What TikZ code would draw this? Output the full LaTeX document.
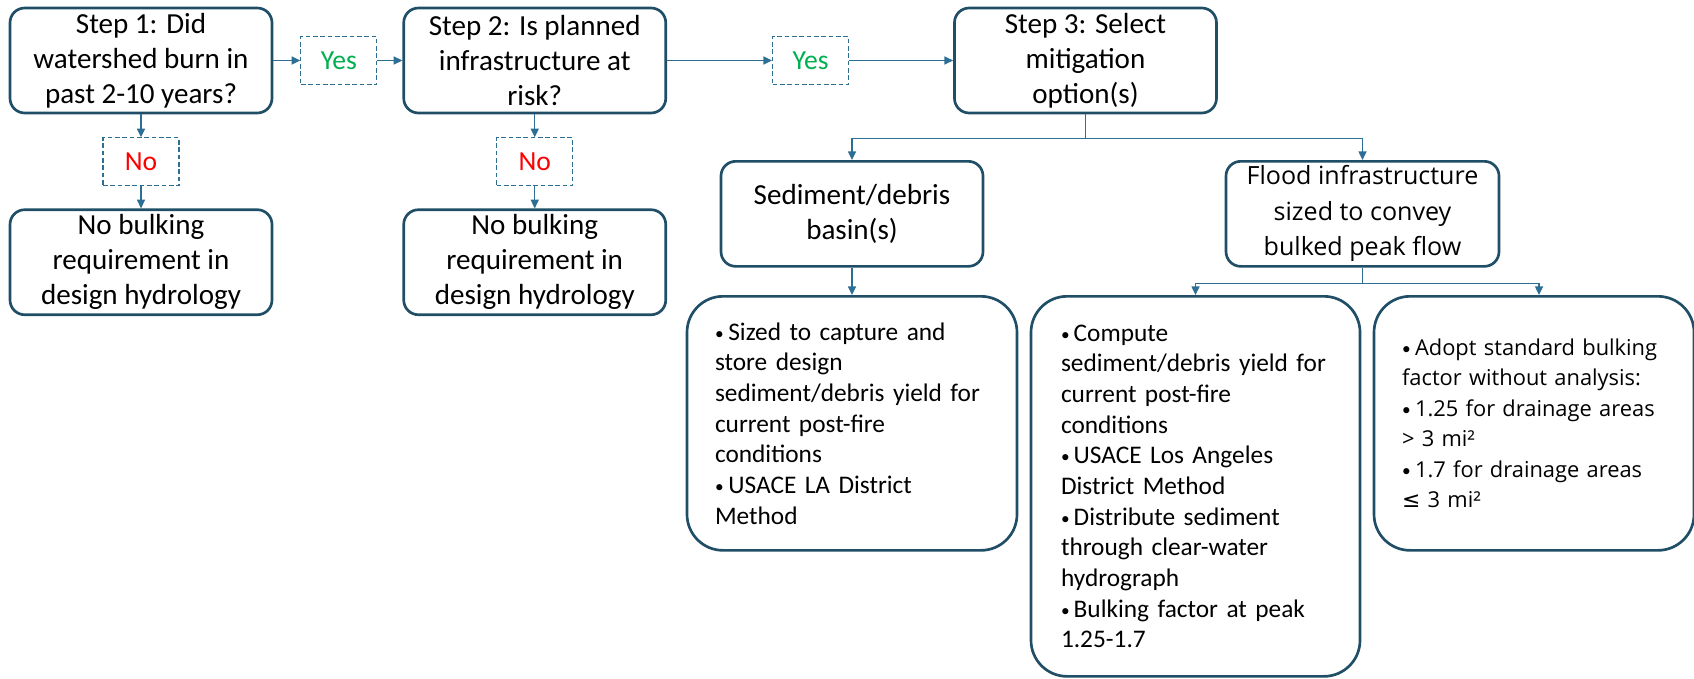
\documentclass[tikz,border=0pt]{standalone}
\usepackage{fontspec}
\setmainfont{Carlito}
\newfontfamily\uifont{Open Sans}
\newfontfamily\symfont{DejaVu Sans}
\usetikzlibrary{arrows.meta,positioning}
\definecolor{boxblue}{HTML}{1F4E66}
\definecolor{linkblue}{HTML}{2C6E94}
\definecolor{yesgreen}{HTML}{00B050}
\definecolor{nored}{HTML}{FF0000}
\newcommand\itm[1][10pt]{\makebox[#1][l]{\rmfamily\raisebox{0.6pt}{\fontsize{13}{13}\selectfont•}}}
\tikzset{
  stepbox/.style={draw=boxblue, line width=2pt, rounded corners=11pt, align=center, minimum width=196.5pt, minimum height=78.75pt, inner sep=2pt, font=\fontsize{21.8}{26.3}\selectfont},
  answer/.style={draw=linkblue, line width=0.8pt, dash pattern=on 3.5pt off 2pt, minimum width=57pt, minimum height=36pt, inner sep=2pt, font=\fontsize{20.7}{25}\selectfont},
  listbox/.style={draw=boxblue, line width=2pt, rounded corners=27pt, align=left, inner xsep=21pt, inner ysep=2pt, font=\fontsize{19}{23}\selectfont},
  edge/.style={-{Triangle[length=6.5pt, width=6pt]}, draw=linkblue, line width=1.1pt},
  link/.style={draw=linkblue, line width=1.1pt}
}
\begin{document}
\begin{tikzpicture}[x=0.75pt, y=-0.75pt]
\useasboundingbox (0,0) rectangle (1694,678);
% question row
\node[stepbox] (s1) at (141,60.5) {Step 1: Did\\watershed burn in\\past 2-10 years?};
\node[answer, text=yesgreen, right=20.25pt of s1] (y1) {Yes};
\node[stepbox, right=18.75pt of y1] (s2) {Step 2: Is planned\\infrastructure at\\risk?};
\node[answer, text=yesgreen, right=78.75pt of s2] (y2) {Yes};
\node[stepbox, right=78pt of y2] (s3) {Step 3: Select\\mitigation\\option(s)};
% no branches
\node[answer, text=nored, below=17.25pt of s1] (n1) {No};
\node[stepbox, below=16.5pt of n1] (nb1) {No bulking\\requirement in\\design hydrology};
\node[answer, text=nored, below=17.25pt of s2] (n2) {No};
\node[stepbox, below=16.5pt of n2] (nb2) {No bulking\\requirement in\\design hydrology};
% mitigation options
\node[stepbox, anchor=north] (sed) at (852,160) {Sediment/debris\\basin(s)};
\node[stepbox, anchor=north, minimum width=204.75pt, font=\uifont\fontsize{18.8}{26.6}\selectfont] (flood) at (1362.5,160) {Flood infrastructure\\sized to convey\\bulked peak flow};
\node[listbox, anchor=north, text width=205.5pt, minimum height=190.5pt] (l1) at (852,295) {\itm Sized to capture and\\store design\\sediment/debris yield for\\current post-fire\\conditions\\\itm USACE LA District\\Method};
\node[listbox, anchor=north, inner xsep=22.5pt, text width=201.75pt, minimum height=285pt] (l2) at (1195.5,295) {\itm[9.5pt]Compute\\sediment/debris yield for\\current post-fire\\conditions\\\itm[9.5pt]USACE Los Angeles\\District Method\\\itm[9.5pt]Distribute sediment\\through clear-water\\hydrograph\\\itm[9.5pt]Bulking factor at peak\\1.25-1.7};
\node[listbox, anchor=north, text width=198pt, minimum height=190.5pt, font=\uifont\fontsize{16.4}{22.8}\selectfont] (l3) at (1534,295) {\itm[9.75pt]Adopt standard bulking\\factor without analysis:\\\itm[9.75pt]1.25 for drainage areas\\> 3 mi²\\\itm[9.75pt]1.7 for drainage areas\\{\symfont ≤} 3 mi²};
% connectors
\draw[edge] (s1) -- (y1);
\draw[edge] (y1) -- (s2);
\draw[edge] (s2) -- (y2);
\draw[edge] (y2) -- (s3);
\draw[edge] (s1) -- (n1);
\draw[edge] (n1) -- (nb1);
\draw[edge] (s2) -- (n2);
\draw[edge] (n2) -- (nb2);
\draw[link] (s3.south) -- ++(0,24) coordinate (fork3);
\draw[edge] (fork3) -| (sed.north);
\draw[edge] (fork3) -| (flood.north);
\draw[edge] (sed) -- (l1);
\draw[link] (flood.south) -- ++(0,16) coordinate (fork4);
\draw[edge] (fork4) -| (l2.north);
\draw[edge] (fork4) -| ([xshift=3.75pt]l3.north);
\end{tikzpicture}
\end{document}
